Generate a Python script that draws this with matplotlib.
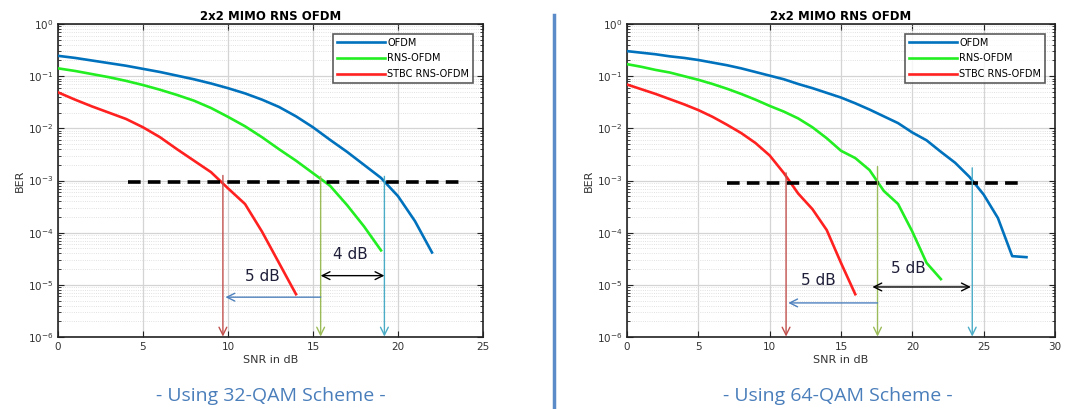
import numpy as np
import matplotlib
matplotlib.use("Agg")
import matplotlib.pyplot as plt
from matplotlib.ticker import LogLocator, NullFormatter

# ---------------- data (log10 BER) ----------------
snr_ofdm_32 = list(range(0, 23))
ber_ofdm_32_log = [-0.61, -0.65, -0.70, -0.75, -0.80, -0.86, -0.92, -0.99, -1.06, -1.14,
                   -1.23, -1.33, -1.45, -1.59, -1.77, -1.98, -2.22, -2.45, -2.70, -2.95,
                   -3.30, -3.78, -4.38]
snr_rns_32 = list(range(0, 20))
ber_rns_32_log = [-0.85, -0.90, -0.96, -1.02, -1.09, -1.17, -1.26, -1.36, -1.47, -1.61,
                  -1.78, -1.96, -2.17, -2.40, -2.62, -2.86, -3.10, -3.47, -3.88, -4.34]
snr_stbc_32 = list(range(0, 15))
ber_stbc_32_log = [-1.31, -1.45, -1.58, -1.70, -1.82, -1.98, -2.17, -2.40, -2.62, -2.84,
                   -3.15, -3.45, -3.98, -4.58, -5.18]

snr_ofdm_64 = list(range(0, 29))
ber_ofdm_64_log = [-0.52, -0.55, -0.58, -0.62, -0.65, -0.69, -0.74, -0.79, -0.85, -0.92,
                   -0.99, -1.06, -1.15, -1.23, -1.32, -1.41, -1.52, -1.64, -1.77, -1.90,
                   -2.08, -2.23, -2.45, -2.66, -2.93, -3.27, -3.72, -4.45, -4.47]
snr_rns_64 = list(range(0, 23))
ber_rns_64_log = [-0.77, -0.82, -0.88, -0.93, -1.00, -1.07, -1.15, -1.24, -1.34, -1.45,
                  -1.57, -1.68, -1.81, -1.98, -2.19, -2.43, -2.57, -2.80, -3.20, -3.45,
                  -3.98, -4.58, -4.89]
snr_stbc_64 = list(range(0, 17))
ber_stbc_64_log = [-1.16, -1.25, -1.34, -1.44, -1.54, -1.65, -1.78, -1.93, -2.09, -2.28,
                   -2.52, -2.86, -3.25, -3.55, -3.95, -4.58, -5.18]

legend_labels = ["OFDM", "RNS-OFDM", "STBC RNS-OFDM"]
title_text = "2x2 MIMO RNS OFDM"
subtitles = ["- Using 32-QAM Scheme -", "- Using 64-QAM Scheme -"]

# annotation values
thr_32 = dict(x=(4.1, 23.7), ber=0.93e-3, cross=(9.7, 15.45, 19.2), top=(1.25e-3, 1.2e-3, 1.2e-3),
              gain1=("5 dB", 15.45, 9.85, 5.8e-6, 12.0, 1.45e-5),
              gain2=("4 dB", 15.45, 19.2, 1.5e-5, 17.2, 3.8e-5))
thr_64 = dict(x=(7.0, 27.8), ber=0.9e-3, cross=(11.15, 17.56, 24.2), top=(1.4e-3, 1.85e-3, 1.75e-3),
              gain1=("5 dB", 17.56, 11.3, 4.5e-6, 13.4, 1.2e-5),
              gain2=("5 dB", 17.2, 24.1, 9.1e-6, 19.7, 2.1e-5))

# ---------------- style ----------------
plt.rcParams['font.family'] = ['DejaVu Sans']
c_ofdm = "#0072bd"
c_rns = "#22ee22"
c_stbc = "#ff2020"

fig = plt.figure(figsize=(10.79, 4.09), dpi=100)
ax1 = fig.add_axes([58/1079, 1-337/409, 425/1079, 313/409])
ax2 = fig.add_axes([627/1079, 1-337/409, 428/1079, 313/409])

panels = [
    (ax1, 25, [0, 5, 10, 15, 20, 25],
     [(snr_ofdm_32, ber_ofdm_32_log), (snr_rns_32, ber_rns_32_log), (snr_stbc_32, ber_stbc_32_log)], thr_32),
    (ax2, 30, [0, 5, 10, 15, 20, 25, 30],
     [(snr_ofdm_64, ber_ofdm_64_log), (snr_rns_64, ber_rns_64_log), (snr_stbc_64, ber_stbc_64_log)], thr_64),
]

for ax, xmax, xt, series, thr in panels:
    for (x, ylog), col, lab in zip(series, [c_ofdm, c_rns, c_stbc], legend_labels):
        ax.semilogy(x, 10.0 ** np.array(ylog), color=col, lw=1.9, label=lab, zorder=3)
    ax.set_xlim(0, xmax)
    ax.set_ylim(1e-6, 1)
    ax.set_xticks(xt)
    ax.yaxis.set_major_locator(LogLocator(base=10, numticks=10))
    ax.yaxis.set_minor_locator(LogLocator(base=10, subs=np.arange(2, 10), numticks=10))
    ax.yaxis.set_minor_formatter(NullFormatter())
    ax.grid(True, which='major', color='#d4d4d4', lw=0.9)
    ax.grid(True, which='minor', axis='y', color='#d8d8d8', lw=0.6, ls=':')
    ax.tick_params(which='both', direction='in', top=True, right=True, labelsize=7.5,
                   labelcolor='#333333', color='#222222')
    ax.tick_params(which='major', length=4)
    ax.tick_params(which='minor', length=2)
    for s in ax.spines.values():
        s.set_color('#222222')
        s.set_linewidth(1.2)
    ax.set_xlabel("SNR in dB", fontsize=8, color='#333333', labelpad=2)
    ax.set_ylabel("BER", fontsize=8, color='#333333', labelpad=2)
    ax.set_title(title_text, fontsize=8.5, fontweight='bold', pad=3)
    leg = ax.legend(loc='upper right', fontsize=7, frameon=True, fancybox=False,
                    edgecolor='#333333', handlelength=5.0, borderaxespad=1.0,
                    labelspacing=0.6, handletextpad=0.2, borderpad=0.4)
    leg.get_frame().set_linewidth(1.2)

    # threshold dashed line
    ax.plot(list(thr['x']), [thr['ber'], thr['ber']], color='black', lw=2.6,
            ls=(0, (3.5, 2)), zorder=4)
    # vertical arrows
    for xc, top, col in zip(thr['cross'], thr['top'], ['#c0504d', '#9bbb59', '#4bacc6']):
        ax.annotate("", xy=(xc, 1.02e-6), xytext=(xc, top),
                    arrowprops=dict(arrowstyle='->', color=col, lw=1.0,
                                    mutation_scale=14, shrinkA=0, shrinkB=0), zorder=5)
    # blue left arrow
    lab, xs, xe, yb, xt_, yt_ = thr['gain1']
    ax.annotate("", xy=(xe, yb), xytext=(xs, yb),
                arrowprops=dict(arrowstyle='->', color='#4f81bd', lw=1.0,
                                mutation_scale=14, shrinkA=0, shrinkB=0), zorder=5)
    ax.text(xt_, yt_, lab, fontsize=11, color='#1f1f3a', ha='center', va='center', zorder=6)
    # black double arrow
    lab, xs, xe, yb, xt_, yt_ = thr['gain2']
    ax.annotate("", xy=(xe, yb), xytext=(xs, yb),
                arrowprops=dict(arrowstyle='<->', color='black', lw=1.0,
                                mutation_scale=14, shrinkA=0, shrinkB=0), zorder=5)
    ax.text(xt_, yt_, lab, fontsize=11, color='#1f1f3a', ha='center', va='center', zorder=6)

# subtitles
fig.text(271/1079, 1-396/409, subtitles[0], fontsize=14, color='#4a7ebb', ha='center', va='center',
         family=['Open Sans', 'DejaVu Sans'])
fig.text(838/1079, 1-396/409, subtitles[1], fontsize=14, color='#4a7ebb', ha='center', va='center',
         family=['Open Sans', 'DejaVu Sans'])

# divider line
fig.add_artist(plt.Line2D([554/1079, 554/1079], [0, 1-15/409], color='#5b8bc9', lw=2.5,
                          transform=fig.transFigure))

fig.savefig("out.png", dpi=100)
